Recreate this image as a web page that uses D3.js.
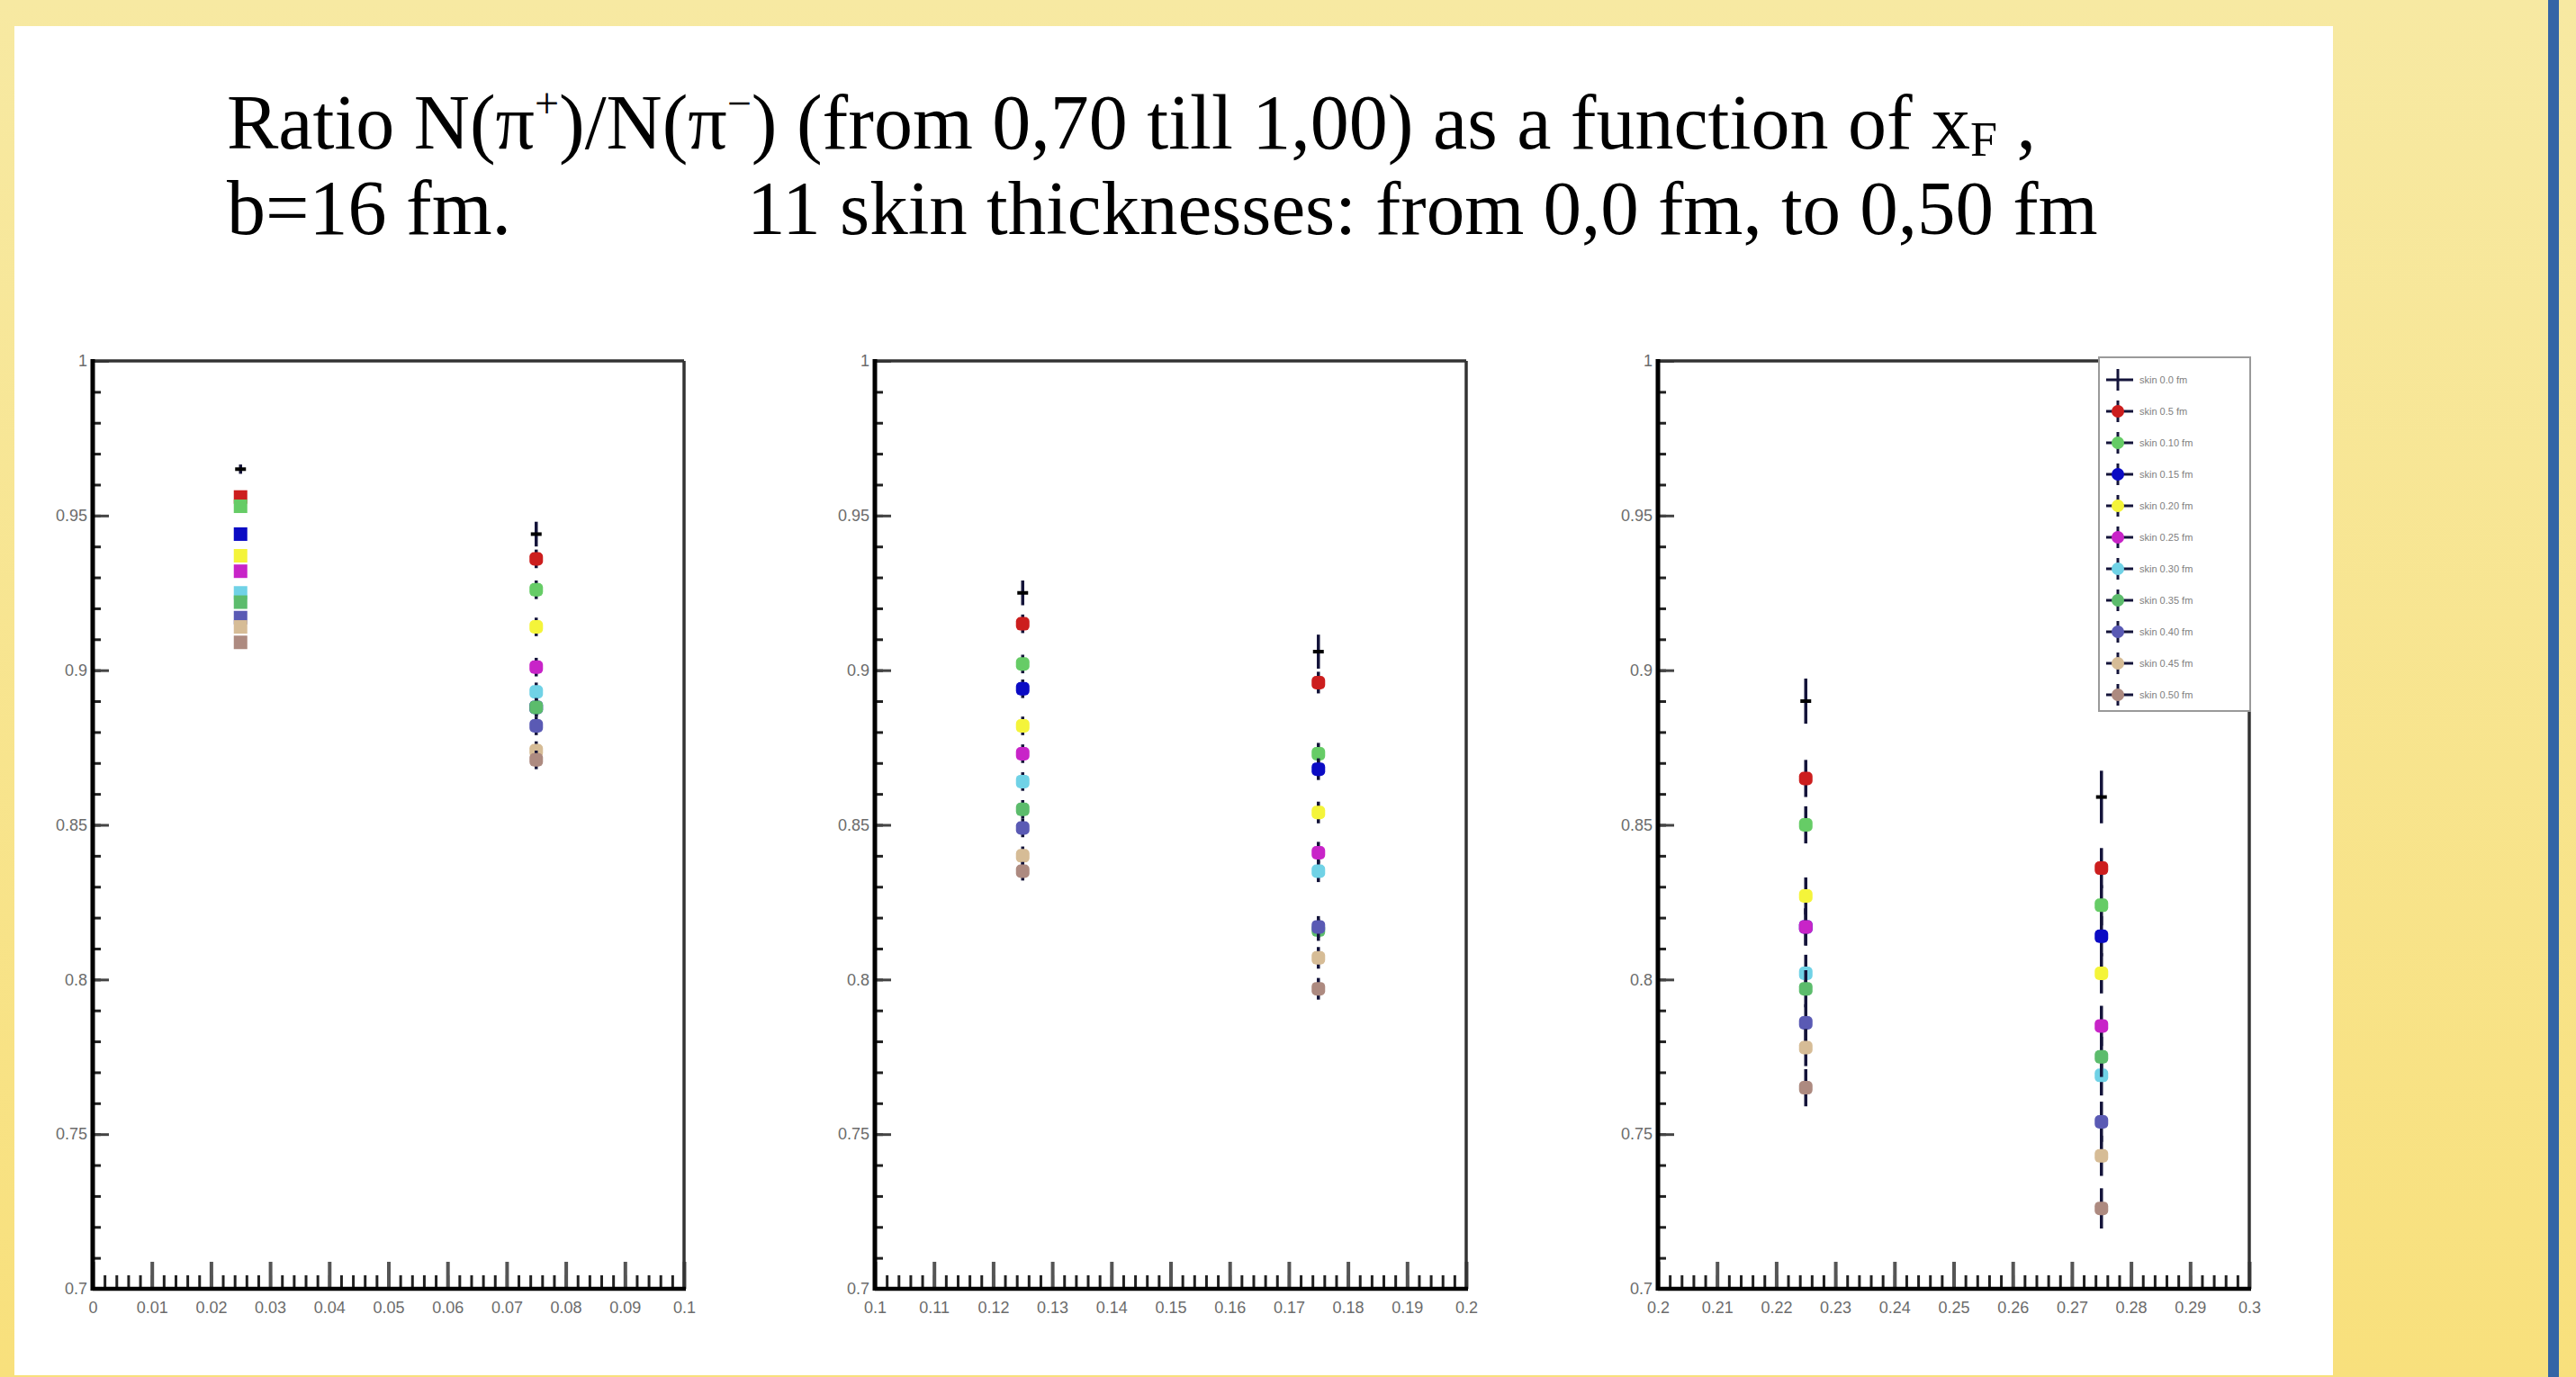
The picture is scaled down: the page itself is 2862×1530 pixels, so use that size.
<!DOCTYPE html>
<html>
<head>
<meta charset="utf-8">
<script src="https://cdn.jsdelivr.net/npm/d3@7"></script>
<style>
  html, body { margin: 0; padding: 0; overflow: hidden; }
  svg { display: block; }
</style>
</head>
<body>
<div class="chart"></div>
<script>
// --- data ---
var xF = [0.025, 0.075, 0.125, 0.175, 0.225, 0.275];
var panelDomains = [[0, 0.1], [0.1, 0.2], [0.2, 0.3]];

var xTicks1 = [0, 0.01, 0.02, 0.03, 0.04, 0.05, 0.06, 0.07, 0.08, 0.09, 0.1];
var xTicks2 = [0.1, 0.11, 0.12, 0.13, 0.14, 0.15, 0.16, 0.17, 0.18, 0.19, 0.2];
var xTicks3 = [0.2, 0.21, 0.22, 0.23, 0.24, 0.25, 0.26, 0.27, 0.28, 0.29, 0.3];
var yTicks = [0.7, 0.75, 0.8, 0.85, 0.9, 0.95, 1];

var skinLabels = ["skin 0.0 fm", "skin 0.5 fm", "skin 0.10 fm", "skin 0.15 fm",
                  "skin 0.20 fm", "skin 0.25 fm", "skin 0.30 fm", "skin 0.35 fm",
                  "skin 0.40 fm", "skin 0.45 fm", "skin 0.50 fm"];

// ratio N(pi+)/N(pi-) at each xF, one array per skin thickness
var skin000 = [0.965, 0.944, 0.925, 0.906, 0.890, 0.859];
var skin005 = [0.956, 0.936, 0.915, 0.896, 0.865, 0.836];
var skin010 = [0.953, 0.926, 0.902, 0.873, 0.850, 0.824];
var skin015 = [0.944, 0.888, 0.894, 0.868, 0.817, 0.814];
var skin020 = [0.937, 0.914, 0.882, 0.854, 0.827, 0.802];
var skin025 = [0.932, 0.901, 0.873, 0.841, 0.817, 0.785];
var skin030 = [0.925, 0.893, 0.864, 0.835, 0.802, 0.769];
var skin035 = [0.922, 0.888, 0.855, 0.816, 0.797, 0.775];
var skin040 = [0.917, 0.882, 0.849, 0.817, 0.786, 0.754];
var skin045 = [0.914, 0.874, 0.840, 0.807, 0.778, 0.743];
var skin050 = [0.909, 0.871, 0.835, 0.797, 0.765, 0.726];

// statistical errors
var errSkin0 = [0.0015, 0.004, 0.004, 0.0055, 0.0073, 0.0085];
var errOther = [0.001, 0.003, 0.003, 0.0035, 0.006, 0.0065];

// --- styles ---
var skinColors = ["#000000", "#cc1e1e", "#66cc66", "#0b0bc4", "#f4f43a", "#c824c8",
                  "#70d2e6", "#5cbc6c", "#5a5ab4", "#d6bc96", "#ad8a80"];

var W = 2862, H = 1530;
var panelLeft = [103, 972, 1842];
var panelWidth = 657;
var plotTop = 401, plotBottom = 1432;

var series = [skin000, skin005, skin010, skin015, skin020, skin025,
              skin030, skin035, skin040, skin045, skin050];
var xTickSets = [xTicks1, xTicks2, xTicks3];

var svg = d3.select(".chart").append("svg")
    .attr("width", W).attr("height", H);

// slide background
var grad = svg.append("defs").append("linearGradient")
    .attr("id", "bg").attr("x1", 0).attr("y1", 0).attr("x2", 0).attr("y2", 1);
grad.append("stop").attr("offset", "0%").attr("stop-color", "#f7e9a2");
grad.append("stop").attr("offset", "100%").attr("stop-color", "#f8e07c");
svg.append("rect").attr("width", W).attr("height", H).attr("fill", "url(#bg)");
svg.append("rect").attr("x", 2831).attr("y", 0).attr("width", 12).attr("height", H)
    .attr("fill", "#3465a6");
svg.append("rect").attr("x", 16).attr("y", 29).attr("width", 2576).attr("height", 1499)
    .attr("fill", "#ffffff");

// title
var title = svg.append("g")
    .attr("font-family", "'Liberation Serif', 'Times New Roman', serif")
    .attr("font-size", 86).attr("fill", "#000");

var t1 = title.append("text").attr("x", 252).attr("y", 165);
t1.append("tspan").text("Ratio N(π");
t1.append("tspan").attr("dy", -34).attr("font-size", 48).text("+");
t1.append("tspan").attr("dy", 34).text(")/N(π");
t1.append("tspan").attr("dy", -34).attr("font-size", 48).text("−");
t1.append("tspan").attr("dy", 34).text(") (from 0,70 till 1,00) as a function of x");
t1.append("tspan").attr("dy", 8).attr("font-size", 54).text("F");
t1.append("tspan").attr("dy", -8).text(" ,");

title.append("text").attr("x", 252).attr("y", 260).text("b=16 fm.");
title.append("text").attr("x", 830).attr("y", 260).attr("font-size", 85)
    .text("11 skin thicknesses: from 0,0 fm, to 0,50 fm");

var y = d3.scaleLinear().domain([0.7, 1]).range([plotBottom, plotTop]);

function drawPanel(p) {
  var x = d3.scaleLinear().domain(panelDomains[p])
      .range([panelLeft[p], panelLeft[p] + panelWidth]);
  var g = svg.append("g");

  // minor x ticks
  g.append("g")
    .attr("transform", "translate(0," + plotBottom + ")")
    .call(d3.axisBottom(x).tickValues(x.ticks(50)).tickSize(-15).tickFormat(""))
    .call(function (a) { a.select(".domain").remove(); })
    .selectAll("line").attr("stroke", "#222").attr("stroke-width", 3);

  // major x ticks with labels
  var xa = g.append("g")
    .attr("transform", "translate(0," + plotBottom + ")")
    .call(d3.axisBottom(x).tickValues(xTickSets[p]).tickSize(-30).tickPadding(14)
      .tickFormat(function (d) { return String(d); }));
  xa.select(".domain").remove();
  xa.selectAll("line").attr("stroke", "#555").attr("stroke-width", 4);
  xa.selectAll("text").attr("font-family", "'Liberation Sans', Arial, sans-serif")
    .attr("font-size", 18).attr("fill", "#6c6c6c");

  // minor y ticks
  g.append("g")
    .attr("transform", "translate(" + panelLeft[p] + ",0)")
    .call(d3.axisLeft(y).tickValues(y.ticks(30)).tickSize(-9).tickFormat(""))
    .call(function (a) { a.select(".domain").remove(); })
    .selectAll("line").attr("stroke", "#222").attr("stroke-width", 3);

  // major y ticks with labels
  var ya = g.append("g")
    .attr("transform", "translate(" + panelLeft[p] + ",0)")
    .call(d3.axisLeft(y).tickValues(yTicks).tickSize(-18).tickPadding(6)
      .tickFormat(function (d) { return String(d); }));
  ya.select(".domain").remove();
  ya.selectAll("line").attr("stroke", "#444").attr("stroke-width", 3);
  ya.selectAll("text").attr("font-family", "'Liberation Sans', Arial, sans-serif")
    .attr("font-size", 18).attr("fill", "#6c6c6c");

  // frame
  var x0 = panelLeft[p], x1 = panelLeft[p] + panelWidth;
  g.append("line").attr("x1", x0).attr("x2", x1).attr("y1", plotTop).attr("y2", plotTop)
    .attr("stroke", "#333").attr("stroke-width", 3.5);
  g.append("line").attr("x1", x1).attr("x2", x1).attr("y1", plotTop).attr("y2", plotBottom)
    .attr("stroke", "#333").attr("stroke-width", 3.5);
  g.append("line").attr("x1", x0).attr("x2", x1 + 2).attr("y1", plotBottom).attr("y2", plotBottom)
    .attr("stroke", "#000").attr("stroke-width", 4.5);
  g.append("line").attr("x1", x0).attr("x2", x0).attr("y1", plotTop - 2).attr("y2", plotBottom + 2)
    .attr("stroke", "#000").attr("stroke-width", 5);

  // points: two xF bins per panel
  var bins = [2 * p, 2 * p + 1];
  series.forEach(function (vals, s) {
    var pts = bins.map(function (b) {
      return { x: xF[b], v: vals[b], e: s === 0 ? errSkin0[b] : errOther[b], bin: b };
    });
    var sg = g.append("g");
    sg.selectAll("line.err").data(pts).enter().append("line")
      .attr("class", "err")
      .attr("x1", function (d) { return x(d.x); })
      .attr("x2", function (d) { return x(d.x); })
      .attr("y1", function (d) { return y(d.v - d.e); })
      .attr("y2", function (d) { return y(d.v + d.e); })
      .attr("stroke", "#14143a").attr("stroke-width", 3.5);
    if (s === 0) {
      sg.selectAll("line.hbar").data(pts).enter().append("line")
        .attr("class", "hbar")
        .attr("x1", function (d) { return x(d.x) - 6; })
        .attr("x2", function (d) { return x(d.x) + 6; })
        .attr("y1", function (d) { return y(d.v); })
        .attr("y2", function (d) { return y(d.v); })
        .attr("stroke", "#000").attr("stroke-width", 4);
    } else {
      sg.selectAll("rect.mk").data(pts).enter().append("rect")
        .attr("class", "mk")
        .attr("x", function (d) { return x(d.x) - 7.5; })
        .attr("y", function (d) { return y(d.v) - 7.5; })
        .attr("width", 15).attr("height", 15)
        .attr("rx", function (d) { return d.bin === 0 ? 0 : 5; })
        .attr("fill", skinColors[s]);
    }
  });
}

[0, 1, 2].forEach(drawPanel);

// legend (inside third panel)
var lx = 2332, ly = 397, lw = 168, lh = 393;
var lg = svg.append("g");
lg.append("rect").attr("x", lx).attr("y", ly).attr("width", lw).attr("height", lh)
  .attr("fill", "#fff").attr("stroke", "#9a9a9a").attr("stroke-width", 2);

var entries = lg.selectAll("g.entry").data(skinLabels).enter().append("g")
  .attr("class", "entry")
  .attr("transform", function (d, i) { return "translate(0," + (422 + i * 35) + ")"; });
entries.append("line").attr("x1", 2340).attr("x2", 2370).attr("y1", 0).attr("y2", 0)
  .attr("stroke", "#14143a").attr("stroke-width", 3);
entries.append("line").attr("x1", 2353).attr("x2", 2353).attr("y1", -12).attr("y2", 12)
  .attr("stroke", "#14143a").attr("stroke-width", 3);
entries.filter(function (d, i) { return i > 0; }).append("circle")
  .attr("cx", 2353).attr("cy", 0).attr("r", 7)
  .attr("fill", function (d, i) { return skinColors[i + 1]; });
entries.append("text").attr("x", 2377).attr("y", 4)
  .attr("font-family", "'Liberation Sans', Arial, sans-serif")
  .attr("font-size", 11).attr("fill", "#808080")
  .text(function (d) { return d; });
</script>
</body>
</html>
